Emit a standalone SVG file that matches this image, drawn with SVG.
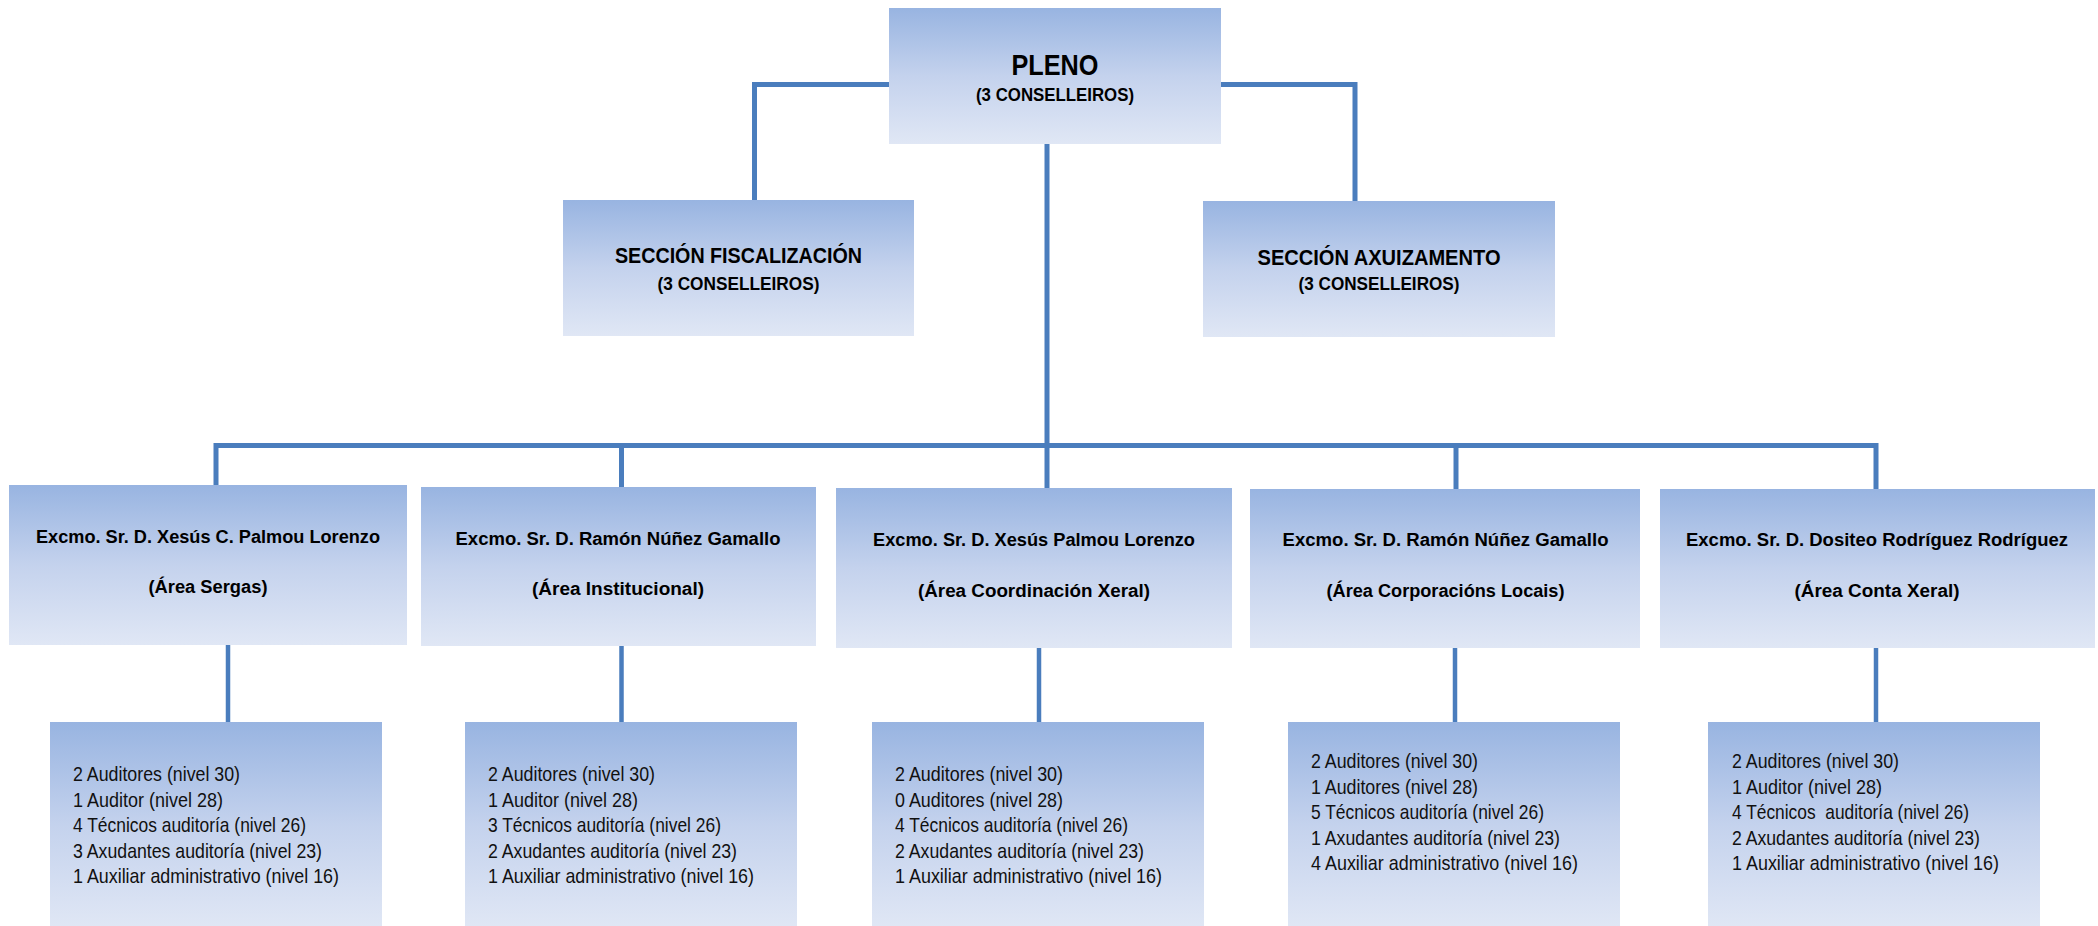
<svg xmlns="http://www.w3.org/2000/svg" width="2098" height="926" viewBox="0 0 2098 926">
<defs>
<linearGradient id="g" x1="0" y1="0" x2="0" y2="1">
<stop offset="0" stop-color="#98b4e1"/>
<stop offset="0.5" stop-color="#c4d2ed"/>
<stop offset="1" stop-color="#e0e7f5"/>
</linearGradient>
<style>
.box{fill:url(#g);stroke:none}
.c{fill:none;stroke:#4a7dbd;stroke-width:5}
.c2{fill:none;stroke:#4a7dbd;stroke-width:4.5}
.b{font-family:"Liberation Sans Narrow","Liberation Sans",Arial,sans-serif;font-weight:bold;fill:#000;text-anchor:middle}
.s{font-family:"Liberation Sans Narrow","Liberation Sans",Arial,sans-serif;font-size:21px;fill:#111}
</style>
</defs>
<rect width="2098" height="926" fill="#fff"/>
<g id="connectors">
<path class="c" d="M889,84.5 H754.5 V201"/>
<path class="c" d="M1221,84.5 H1355 V201"/>
<path class="c" d="M1047,144 V488"/>
<path class="c" d="M216,486 V445.5 H1876 V489"/>
<path class="c" d="M621.5,445.5 V487"/>
<path class="c" d="M1456,445.5 V489"/>
<path class="c2" d="M228,645 V722"/>
<path class="c2" d="M621.5,646 V722"/>
<path class="c2" d="M1039,648 V722"/>
<path class="c2" d="M1455,648 V722"/>
<path class="c2" d="M1876,643 V722"/>
</g>
<g id="pleno">
<rect class="box" x="889" y="8" width="332" height="136"/>
<text class="b" x="1055" y="75" font-size="30" textLength="87" lengthAdjust="spacingAndGlyphs">PLENO</text>
<text class="b" x="1055" y="101" font-size="18" textLength="158" lengthAdjust="spacingAndGlyphs">(3 CONSELLEIROS)</text>
</g>
<g id="seccion-fiscalizacion">
<rect class="box" x="563" y="200" width="351" height="136"/>
<text class="b" x="738.5" y="263" font-size="22" textLength="247" lengthAdjust="spacingAndGlyphs">SECCIÓN FISCALIZACIÓN</text>
<text class="b" x="738.5" y="290" font-size="18" textLength="162" lengthAdjust="spacingAndGlyphs">(3 CONSELLEIROS)</text>
</g>
<g id="seccion-axuizamento">
<rect class="box" x="1203" y="201" width="352" height="136"/>
<text class="b" x="1379" y="265" font-size="22" textLength="243" lengthAdjust="spacingAndGlyphs">SECCIÓN AXUIZAMENTO</text>
<text class="b" x="1379" y="290" font-size="18" textLength="161" lengthAdjust="spacingAndGlyphs">(3 CONSELLEIROS)</text>
</g>
<g id="area-sergas">
<rect class="box" x="9" y="485" width="398" height="160"/>
<text class="b" x="208" y="543" font-size="18" textLength="344" lengthAdjust="spacingAndGlyphs">Excmo. Sr. D. Xesús C. Palmou Lorenzo</text>
<text class="b" x="208" y="593" font-size="18" textLength="119" lengthAdjust="spacingAndGlyphs">(Área Sergas)</text>
</g>
<g id="area-institucional">
<rect class="box" x="421" y="487" width="395" height="159"/>
<text class="b" x="618" y="545" font-size="18" textLength="325" lengthAdjust="spacingAndGlyphs">Excmo. Sr. D. Ramón Núñez Gamallo</text>
<text class="b" x="618" y="595" font-size="18" textLength="172" lengthAdjust="spacingAndGlyphs">(Área Institucional)</text>
</g>
<g id="area-coordinacion">
<rect class="box" x="836" y="488" width="396" height="160"/>
<text class="b" x="1034" y="546" font-size="18" textLength="322" lengthAdjust="spacingAndGlyphs">Excmo. Sr. D. Xesús Palmou Lorenzo</text>
<text class="b" x="1034" y="597" font-size="18" textLength="232" lengthAdjust="spacingAndGlyphs">(Área Coordinación Xeral)</text>
</g>
<g id="area-corporacions">
<rect class="box" x="1250" y="489" width="390" height="159"/>
<text class="b" x="1445.5" y="546" font-size="18" textLength="326" lengthAdjust="spacingAndGlyphs">Excmo. Sr. D. Ramón Núñez Gamallo</text>
<text class="b" x="1445.5" y="597" font-size="18" textLength="238" lengthAdjust="spacingAndGlyphs">(Área Corporacións Locais)</text>
</g>
<g id="area-conta">
<rect class="box" x="1660" y="489" width="435" height="159"/>
<text class="b" x="1877" y="546" font-size="18" textLength="382" lengthAdjust="spacingAndGlyphs">Excmo. Sr. D. Dositeo Rodríguez Rodríguez</text>
<text class="b" x="1877" y="597" font-size="18" textLength="165" lengthAdjust="spacingAndGlyphs">(Área Conta Xeral)</text>
</g>
<g id="persoal-sergas">
<rect class="box" x="50" y="722" width="332" height="206"/>
<text class="s" x="73" y="781" textLength="167" lengthAdjust="spacingAndGlyphs">2 Auditores (nivel 30)</text>
<text class="s" x="73" y="806.5" textLength="150" lengthAdjust="spacingAndGlyphs">1 Auditor (nivel 28)</text>
<text class="s" x="73" y="832" textLength="233" lengthAdjust="spacingAndGlyphs">4 Técnicos auditoría (nivel 26)</text>
<text class="s" x="73" y="857.5" textLength="249" lengthAdjust="spacingAndGlyphs">3 Axudantes auditoría (nivel 23)</text>
<text class="s" x="73" y="883" textLength="266" lengthAdjust="spacingAndGlyphs">1 Auxiliar administrativo (nivel 16)</text>
</g>
<g id="persoal-institucional">
<rect class="box" x="465" y="722" width="332" height="206"/>
<text class="s" x="488" y="781" textLength="167" lengthAdjust="spacingAndGlyphs">2 Auditores (nivel 30)</text>
<text class="s" x="488" y="806.5" textLength="150" lengthAdjust="spacingAndGlyphs">1 Auditor (nivel 28)</text>
<text class="s" x="488" y="832" textLength="233" lengthAdjust="spacingAndGlyphs">3 Técnicos auditoría (nivel 26)</text>
<text class="s" x="488" y="857.5" textLength="249" lengthAdjust="spacingAndGlyphs">2 Axudantes auditoría (nivel 23)</text>
<text class="s" x="488" y="883" textLength="266" lengthAdjust="spacingAndGlyphs">1 Auxiliar administrativo (nivel 16)</text>
</g>
<g id="persoal-coordinacion">
<rect class="box" x="872" y="722" width="332" height="206"/>
<text class="s" x="895" y="781" textLength="168" lengthAdjust="spacingAndGlyphs">2 Auditores (nivel 30)</text>
<text class="s" x="895" y="806.5" textLength="168" lengthAdjust="spacingAndGlyphs">0 Auditores (nivel 28)</text>
<text class="s" x="895" y="832" textLength="233" lengthAdjust="spacingAndGlyphs">4 Técnicos auditoría (nivel 26)</text>
<text class="s" x="895" y="857.5" textLength="249" lengthAdjust="spacingAndGlyphs">2 Axudantes auditoría (nivel 23)</text>
<text class="s" x="895" y="883" textLength="267" lengthAdjust="spacingAndGlyphs">1 Auxiliar administrativo (nivel 16)</text>
</g>
<g id="persoal-corporacions">
<rect class="box" x="1288" y="722" width="332" height="206"/>
<text class="s" x="1311" y="768" textLength="167" lengthAdjust="spacingAndGlyphs">2 Auditores (nivel 30)</text>
<text class="s" x="1311" y="793.5" textLength="167" lengthAdjust="spacingAndGlyphs">1 Auditores (nivel 28)</text>
<text class="s" x="1311" y="819" textLength="233" lengthAdjust="spacingAndGlyphs">5 Técnicos auditoría (nivel 26)</text>
<text class="s" x="1311" y="844.5" textLength="249" lengthAdjust="spacingAndGlyphs">1 Axudantes auditoría (nivel 23)</text>
<text class="s" x="1311" y="870" textLength="267" lengthAdjust="spacingAndGlyphs">4 Auxiliar administrativo (nivel 16)</text>
</g>
<g id="persoal-conta">
<rect class="box" x="1708" y="722" width="332" height="206"/>
<text class="s" x="1732" y="768" textLength="167" lengthAdjust="spacingAndGlyphs">2 Auditores (nivel 30)</text>
<text class="s" x="1732" y="793.5" textLength="150" lengthAdjust="spacingAndGlyphs">1 Auditor (nivel 28)</text>
<text class="s" x="1732" y="819" textLength="237" lengthAdjust="spacingAndGlyphs" xml:space="preserve">4 Técnicos  auditoría (nivel 26)</text>
<text class="s" x="1732" y="844.5" textLength="248" lengthAdjust="spacingAndGlyphs">2 Axudantes auditoría (nivel 23)</text>
<text class="s" x="1732" y="870" textLength="267" lengthAdjust="spacingAndGlyphs">1 Auxiliar administrativo (nivel 16)</text>
</g>
</svg>
